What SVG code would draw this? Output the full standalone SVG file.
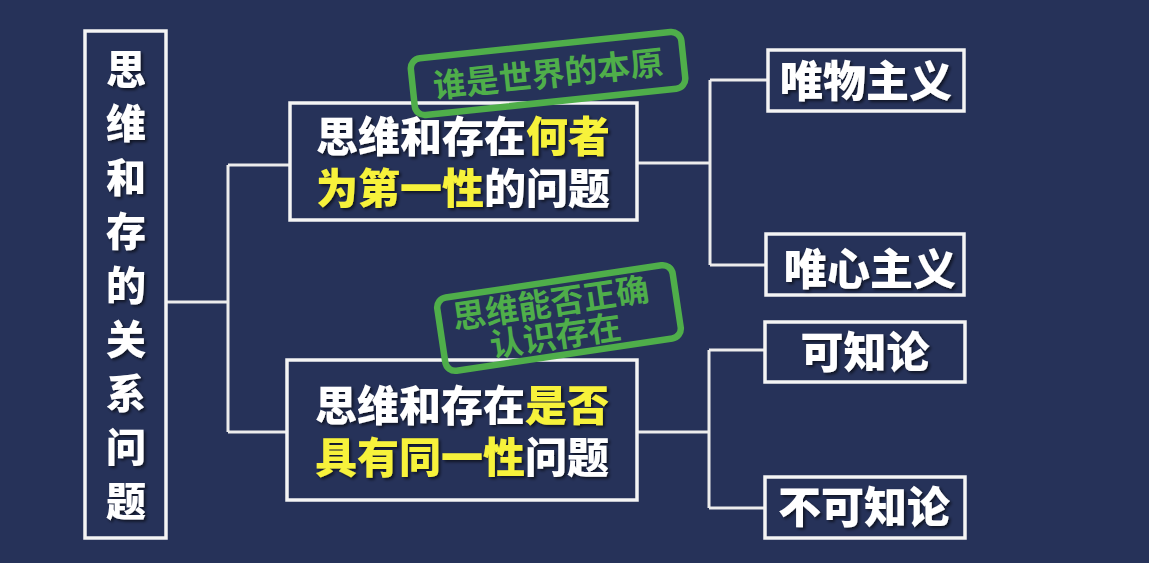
<svg xmlns="http://www.w3.org/2000/svg" width="1149" height="563" viewBox="0 0 1149 563">
<defs>
<filter id="sh" x="-10%" y="-10%" width="130%" height="130%">
<feDropShadow dx="2" dy="2" stdDeviation="1.5" flood-color="#000" flood-opacity="0.6"/>
</filter>
</defs>
<style>
.box{fill:none;stroke:#f4f4f4;stroke-width:3.5}
.con{fill:none;stroke:#ececec;stroke-width:3}
.t{font-family:"Noto Sans CJK SC","Liberation Sans",sans-serif;font-weight:900;fill:#ffffff;text-anchor:middle;filter:url(#sh)}
.y{fill:#f7f23a}
.stamp{fill:none;stroke:#4fae4a;stroke-width:6.5}
.st{font-family:"Noto Sans CJK SC","Liberation Sans",sans-serif;font-weight:bold;fill:#4fae4a;text-anchor:middle;font-size:33px}
</style>
<rect width="1149" height="563" fill="#263259"/>
<g id="connectors">
<path class="con" d="M166 302 H228 M228 165 V432 M228 165 H290 M228 432 H287"/>
<path class="con" d="M637 163 H710 M710 80 V265 M710 80 H768 M710 265 H766"/>
<path class="con" d="M637 432 H709 M709 350 V508 M709 350 H765 M709 508 H765"/>
</g>
<g id="root">
<rect class="box" x="85" y="31" width="81" height="507"/>
<text class="t" font-size="40" x="126">
<tspan x="126" y="84">思</tspan><tspan x="126" y="138">维</tspan><tspan x="126" y="192">和</tspan><tspan x="126" y="246">存</tspan><tspan x="126" y="300">的</tspan><tspan x="126" y="354">关</tspan><tspan x="126" y="408">系</tspan><tspan x="126" y="462">问</tspan><tspan x="126" y="516">题</tspan>
</text>
</g>
<g id="q1">
<rect class="box" x="290" y="103" width="347" height="117"/>
<text class="t" font-size="42" x="463" y="152">思维和存在<tspan class="y">何者</tspan></text>
<text class="t" font-size="42" x="463" y="204"><tspan class="y">为第一性</tspan>的问题</text>
</g>
<g id="q2">
<rect class="box" x="287" y="360" width="350" height="140"/>
<text class="t" font-size="42" x="462" y="421">思维和存在<tspan class="y">是否</tspan></text>
<text class="t" font-size="42" x="462" y="473"><tspan class="y">具有同一性</tspan>问题</text>
</g>
<g id="r1">
<rect class="box" x="768" y="50" width="196" height="61"/>
<text class="t" font-size="43" x="866" y="97">唯物主义</text>
</g>
<g id="r2">
<rect class="box" x="766" y="234" width="198" height="61"/>
<text class="t" font-size="43" x="870" y="285">唯心主义</text>
</g>
<g id="r3">
<rect class="box" x="765" y="322" width="200" height="60"/>
<text class="t" font-size="43" x="865" y="368">可知论</text>
</g>
<g id="r4">
<rect class="box" x="765" y="477" width="200" height="61"/>
<text class="t" font-size="43" x="864" y="523">不可知论</text>
</g>
<g id="stamp1" transform="translate(548,73) rotate(-6)">
<rect class="stamp" x="-136" y="-28" width="272" height="57" rx="10"/>
<text class="st" x="0" y="13">谁是世界的本原</text>
</g>
<g id="stamp2" transform="translate(559,318) rotate(-8.5)">
<rect class="stamp" x="-119" y="-37" width="238" height="74" rx="10"/>
<text class="st" x="-6" y="-4">思维能否正确</text>
<text class="st" x="-6" y="29">认识存在</text>
</g>
</svg>
